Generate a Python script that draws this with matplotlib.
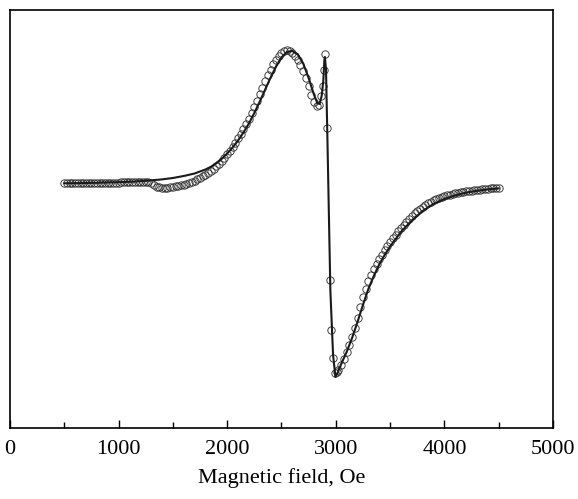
import matplotlib
matplotlib.use("Agg")
import matplotlib.pyplot as plt
from matplotlib.ticker import MultipleLocator

# experimental EPR spectrum (open circles), field in Oe, signal in arbitrary units
field_exp = [500, 525, 550, 575, 600, 625, 650, 675, 700, 725, 750, 775, 800, 825, 850, 875,
             900, 925, 950, 975, 1000, 1025, 1050, 1075, 1100, 1125, 1150, 1175, 1200, 1225,
             1250, 1275, 1300, 1325, 1350, 1375, 1400, 1425, 1450, 1475, 1500, 1525, 1550,
             1575, 1600, 1625, 1650, 1675, 1700, 1725, 1750, 1775, 1800, 1825, 1850, 1875,
             1900, 1925, 1950, 1975, 2000, 2025, 2050, 2075, 2100, 2125, 2150, 2175, 2200,
             2225, 2250, 2275, 2300, 2325, 2350, 2375, 2400, 2425, 2450, 2475, 2500, 2525,
             2550, 2575, 2600, 2625, 2650, 2675, 2700, 2725, 2750, 2775, 2800, 2825, 2845,
             2865, 2880, 2893, 2905, 2919, 2946, 2956, 2973, 2993, 3010, 3025, 3050, 3075,
             3100, 3125, 3150, 3175, 3200, 3225, 3250, 3275, 3300, 3325, 3350, 3375, 3400,
             3425, 3450, 3475, 3500, 3525, 3550, 3575, 3600, 3625, 3650, 3675, 3700, 3725,
             3750, 3775, 3800, 3825, 3850, 3875, 3900, 3925, 3950, 3975, 4000, 4025, 4050,
             4075, 4100, 4125, 4150, 4175, 4200, 4225, 4250, 4275, 4300, 4325, 4350, 4375,
             4400, 4425, 4450, 4475, 4500]
signal_exp = [-0.5, -0.5, -0.5, -0.5, -0.5, -0.5, -0.4, -0.4, -0.4, -0.3, -0.3, -0.2, -0.2,
              -0.1, 0.0, 0.0, 0.1, 0.2, 0.3, 0.3, 0.4, 0.5, 0.6, 0.7, 0.8, 0.9, 1.0, 1.1, 1.2,
              1.2, 1.2, 1.0, -0.5, -2.5, -3.8, -4.5, -4.8, -4.8, -4.6, -4.2, -3.7, -3.2, -2.7,
              -2.2, -1.6, -0.9, 0.0, 1.0, 2.3, 3.7, 5.2, 6.7, 8.2, 9.8, 11.8, 14.0, 16.5, 19.0,
              22.0, 25.0, 28.5, 32.2, 36.2, 40.3, 44.5, 48.8, 53.5, 58.5, 64.0, 70.0, 76.0,
              82.0, 88.5, 95.0, 101.5, 107.5, 113.2, 118.5, 123.0, 127.0, 130.0, 132.3, 133.0,
              132.2, 130.0, 126.8, 122.8, 117.8, 112.0, 105.0, 96.8, 88.0, 80.5, 77.0, 77.5,
              86.5, 97.0, 113.0, 128.5, 55.3, -97.0, -147.0, -174.7, -190.3, -189.5, -187.5,
              -182.5, -176.5, -169.5, -162.0, -154.0, -145.5, -135.0, -124.5, -114.5, -106.0,
              -98.5, -92.0, -86.0, -81.0, -76.5, -72.0, -67.5, -63.5, -59.5, -55.5, -52.0,
              -48.5, -45.0, -42.0, -39.0, -36.0, -33.0, -30.5, -28.0, -26.0, -24.0, -22.0,
              -20.3, -18.8, -17.4, -16.2, -15.1, -14.1, -13.2, -12.4, -11.7, -11.0, -10.4,
              -9.8, -9.3, -8.8, -8.4, -8.0, -7.6, -7.2, -6.9, -6.6, -6.3, -6.0, -5.7, -5.5,
              -5.3, -5.1, -4.9]

# fitted spectrum (solid line)
field_fit = [500, 600, 700, 800, 900, 1000, 1100, 1200, 1300, 1400, 1500, 1600, 1700, 1800,
             1850, 1900, 1950, 2000, 2050, 2100, 2150, 2200, 2250, 2300, 2350, 2400, 2450,
             2500, 2550, 2600, 2650, 2700, 2750, 2800, 2830, 2850, 2870, 2885, 2895, 2900,
             2910, 2925, 2950, 2975, 2997, 3020, 3050, 3100, 3150, 3200, 3250, 3300, 3350,
             3400, 3450, 3500, 3600, 3700, 3800, 3900, 4000, 4100, 4200, 4300, 4400, 4500]
signal_fit = [-0.3, -0.2, 0.0, 0.2, 0.5, 0.8, 1.2, 1.8, 2.6, 3.6, 5.0, 7.0, 9.5, 13.5, 16.2,
              19.8, 24.2, 29.5, 35.5, 42.5, 50.5, 59.5, 70.0, 81.5, 93.5, 105.5, 116.5, 125.5,
              131.0, 132.0, 128.5, 119.5, 105.0, 88.0, 80.0, 79.0, 87.0, 102.0, 123.0, 126.0,
              113.0, 33.0, -107.0, -172.0, -194.0, -189.0, -181.0, -169.0, -155.0, -139.0,
              -122.0, -106.0, -93.0, -81.5, -72.0, -63.5, -49.0, -37.5, -28.0, -21.0, -16.0,
              -12.3, -9.6, -7.8, -6.4, -5.4]

plt.rcParams['font.family'] = ['Liberation Serif', 'DejaVu Serif']

fig = plt.figure(figsize=(5.78, 4.99), dpi=100)
ax = fig.add_axes([0.0173, 0.1423, 0.9394, 0.8377])

ax.plot(field_exp, signal_exp, linestyle='none', marker='o', markersize=5.3,
        markerfacecolor='none', markeredgecolor='#333333', markeredgewidth=0.65)
ax.plot(field_fit, signal_fit, color='#1a1a1a', linewidth=1.5)

ax.set_xlim(0, 5000)
ax.set_ylim(-245, 173)
ax.xaxis.set_major_locator(MultipleLocator(1000))
ax.xaxis.set_minor_locator(MultipleLocator(500))
ax.tick_params(axis='x', which='major', direction='in', length=6, width=1.0,
               labelsize=16, pad=9, top=False)
ax.tick_params(axis='x', which='minor', direction='in', length=4, width=1.0, top=False)
ax.set_yticks([])
for s in ax.spines.values():
    s.set_linewidth(1.2)

ax.set_xlabel('Magnetic field, Oe', fontsize=16, labelpad=6)

fig.savefig('out.png', dpi=100)
